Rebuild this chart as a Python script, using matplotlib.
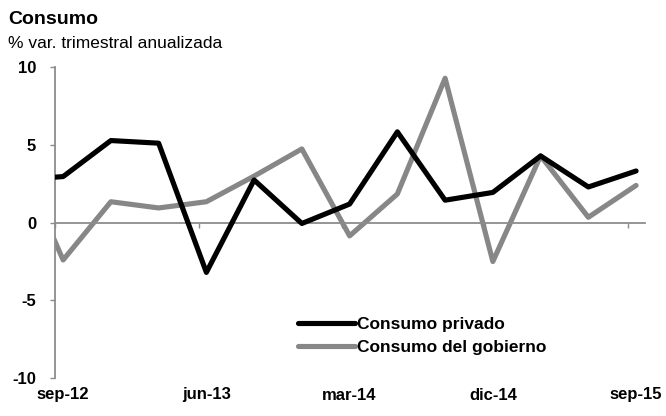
import numpy as np
import matplotlib
matplotlib.use("Agg")
import matplotlib.pyplot as plt
from matplotlib.transforms import blended_transform_factory

# ── Dane ──────────────────────────────────────────────────────────────────────

# kwartały; pierwszy (jun-12) leży na lewo od osi i jest przycięty
quarters = ['jun-12', 'sep-12', 'dic-12', 'mar-13', 'jun-13', 'sep-13', 'dic-13',
            'mar-14', 'jun-14', 'sep-14', 'dic-14', 'mar-15', 'jun-15', 'sep-15']
privado = [2.75, 2.97, 5.29, 5.12, -3.2, 2.75, -0.05,
           1.2, 5.85, 1.45, 1.95, 4.3, 2.3, 3.33]
gobierno = [4.6, -2.4, 1.35, 0.95, 1.35, 3.0, 4.75,
            -0.85, 1.85, 9.3, -2.5, 4.3, 0.35, 2.4]
shown_labels = ['sep-12', 'jun-13', 'mar-14', 'dic-14', 'sep-15']
y_ticks = [-10, -5, 0, 5, 10]

GRAY = '#878787'
AXIS_GRAY = '#8c8c8c'

plt.rcParams['font.family'] = ['Liberation Sans Narrow', 'Liberation Sans', 'DejaVu Sans']

x = np.arange(len(quarters)) - 1   # sep-12 -> 0
label_pos = [quarters.index(q) - 1 for q in shown_labels]

# ── Wykres ────────────────────────────────────────────────────────────────────

fig = plt.figure(figsize=(6.66, 4.16), dpi=100)
ax = fig.add_axes([0.0826, 0.0913, 0.968 - 0.0826, 0.838 - 0.0913])

ax.plot(x, privado, color='black', lw=3.7, solid_joinstyle='round',
        solid_capstyle='round', label='Consumo privado', zorder=3)
ax.plot(x, gobierno, color=GRAY, lw=3.7, solid_joinstyle='round',
        solid_capstyle='round', label='Consumo del gobierno', zorder=2)

ax.set_xlim(-0.17, 12.18)
ax.set_ylim(-10, 10)

# oś X przechodzi przez zero
for s in ['top', 'right']:
    ax.spines[s].set_visible(False)
ax.spines['bottom'].set_position(('data', 0))
ax.spines['bottom'].set_color(AXIS_GRAY)
ax.spines['left'].set_color(AXIS_GRAY)
ax.spines['bottom'].set_linewidth(1.3)
ax.spines['left'].set_linewidth(1.3)

# kreski na osi X lekko przesunięte względem punktów (jak w Excelu)
ax.set_xticks([p - 0.16 for p in label_pos])
ax.set_xticklabels([])
ax.tick_params(axis='x', direction='out', length=3.6, width=1.0, color=AXIS_GRAY)

ax.set_yticks(y_ticks)
ax.set_yticklabels([str(v) for v in y_ticks], fontsize=12, fontweight='bold')
ax.tick_params(axis='y', direction='out', length=3.6, width=1.0,
               color=AXIS_GRAY, pad=10)

# etykiety kwartałów pod wykresem
trans = blended_transform_factory(ax.transData, fig.transFigure)
for p, lab in zip(label_pos, shown_labels):
    ax.text(p, 1 - 395 / 416, lab, transform=trans, ha='center', va='center',
            fontsize=12, fontweight='bold')

# tytuł
fig.text(8 / 666, 1 - 20 / 416, 'Consumo', fontsize=14, fontweight='bold',
         ha='left', va='center')
fig.text(8 / 666, 1 - 44 / 416, '% var. trimestral anualizada', fontsize=12.5,
         ha='left', va='center')

leg = ax.legend(loc='center left', bbox_to_anchor=(298 / 666, 1 - 336 / 416),
                bbox_transform=fig.transFigure, frameon=False,
                prop={'size': 12.5, 'weight': 'bold'}, handlelength=3.3,
                handletextpad=0.1, labelspacing=0.5, borderpad=0,
                borderaxespad=0)

fig.savefig('out.png', dpi=100)
